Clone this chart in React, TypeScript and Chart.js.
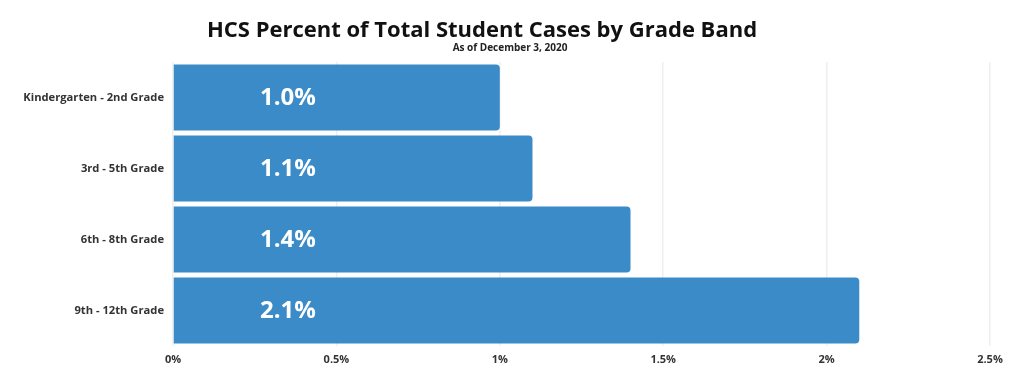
import React, { useEffect, useRef } from "react";
import { Chart, registerables } from "chart.js";

Chart.register(...registerables);

const TITLE = "HCS Percent of Total Student Cases by Grade Band";
const SUBTITLE = "As of December 3, 2020";
const categories = [
  "Kindergarten - 2nd Grade",
  "3rd - 5th Grade",
  "6th - 8th Grade",
  "9th - 12th Grade",
];
const percentValues = [1.0, 1.1, 1.4, 2.1];
const valueLabels = ["1.0%", "1.1%", "1.4%", "2.1%"];
const xTicks = [0, 0.5, 1, 1.5, 2, 2.5];
const xTickLabels = ["0%", "0.5%", "1%", "1.5%", "2%", "2.5%"];

const FONT = "'Open Sans', 'Noto Sans', sans-serif";
const BAR_COLOR = "#3a8bc8";

const titlePlugin = {
  id: "customTitle",
  afterDraw(chart: any) {
    const ctx = chart.ctx;
    ctx.save();
    ctx.fillStyle = "#111";
    ctx.textAlign = "center";
    ctx.textBaseline = "middle";
    ctx.font = `bold 22px ${FONT}`;
    ctx.fillText(TITLE, 482, 31);
    ctx.font = `bold 10px ${FONT}`;
    ctx.fillStyle = "#222";
    ctx.fillText(SUBTITLE, 510, 48);
    ctx.restore();
  },
};

const valueLabelPlugin = {
  id: "valueLabels",
  afterDatasetsDraw(chart: any) {
    const ctx = chart.ctx;
    const meta = chart.getDatasetMeta(0);
    const xScale = chart.scales.x;
    const x0 = xScale.getPixelForValue(0) + 115;
    ctx.save();
    ctx.fillStyle = "#ffffff";
    ctx.textAlign = "center";
    ctx.textBaseline = "middle";
    ctx.font = `bold 24px ${FONT}`;
    meta.data.forEach((bar: any, i: number) => {
      ctx.fillText(valueLabels[i], x0, bar.y + 1);
    });
    ctx.restore();
  },
};

export default function App() {
  const canvasRef = useRef<HTMLCanvasElement | null>(null);

  useEffect(() => {
    document.body.style.margin = "0";
    const canvas = canvasRef.current;
    if (!canvas) return;
    const chart = new Chart(canvas, {
      type: "bar",
      data: {
        labels: categories,
        datasets: [
          {
            data: percentValues,
            backgroundColor: BAR_COLOR,
            borderRadius: 4,
            barPercentage: 0.93,
            categoryPercentage: 1,
          },
        ],
      },
      options: {
        indexAxis: "y",
        animation: false,
        responsive: false,
        maintainAspectRatio: false,
        layout: { padding: { top: 62, right: 34, bottom: 0, left: 0 } },
        plugins: {
          legend: { display: false },
          tooltip: { enabled: false },
          title: { display: false },
        },
        scales: {
          x: {
            min: 0,
            max: 2.5,
            afterBuildTicks(scale: any) {
              scale.ticks = xTicks.map((v) => ({ value: v }));
            },
            afterFit(scale: any) {
              scale.height = 384 - 346;
            },
            grid: {
              color: "#efefef",
              lineWidth: 1.5,
              drawTicks: false,
            },
            border: { display: false },
            ticks: {
              padding: 7,
              color: "#333",
              font: { family: FONT, size: 11, weight: "bold" },
              callback: (v: any) => {
                const i = xTicks.indexOf(Number(v));
                return i >= 0 ? xTickLabels[i] : "";
              },
            },
          },
          y: {
            afterFit(scale: any) {
              scale.width = 173;
            },
            grid: { display: false, drawTicks: false },
            border: { display: false },
            ticks: {
              padding: 9,
              color: "#333",
              font: { family: FONT, size: 11.2, weight: "bold" },
            },
          },
        },
      },
      plugins: [titlePlugin, valueLabelPlugin],
    });
    return () => chart.destroy();
  }, []);

  return (
    <div style={{ width: 1024, height: 384, background: "#fff" }}>
      <canvas ref={canvasRef} width={1024} height={384} style={{ display: "block" }} />
    </div>
  );
}
